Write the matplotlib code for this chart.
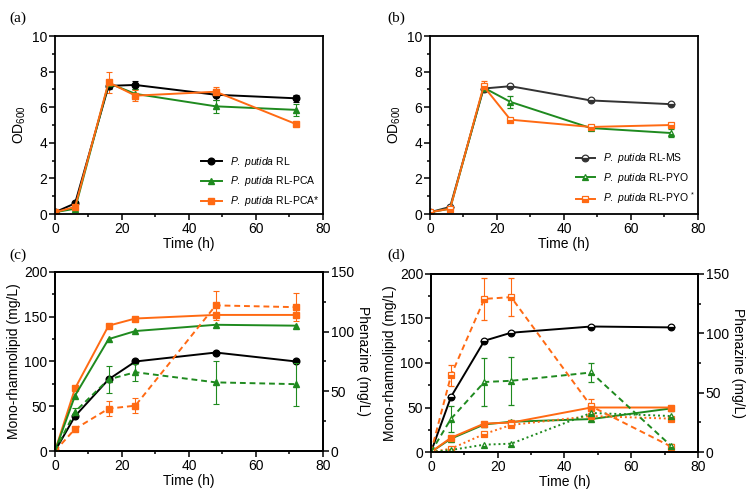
import matplotlib

matplotlib.use("Agg")
import matplotlib.pyplot as plt
from matplotlib.ticker import MultipleLocator

plt.rcParams["font.family"] = ["Liberation Sans", "DejaVu Sans"]
plt.rcParams["mathtext.fontset"] = "custom"
plt.rcParams["mathtext.rm"] = "Liberation Sans"
plt.rcParams["mathtext.it"] = "Liberation Sans:italic"
plt.rcParams["mathtext.bf"] = "Liberation Sans:bold"

BLACK = "#000000"
GREY = "#333333"
GREEN = "#1f8a1f"
ORANGE = "#ff6a13"

# sampling times (h)
TIME = [0, 6, 16, 24, 48, 72]

# (a) OD600
OD_RL = [0.1, 0.6, 7.2, 7.25, 6.7, 6.5]
OD_RL_ERR = [0, 0, 0.2, 0.25, 0.3, 0.2]
OD_PCA = [0.1, 0.3, 7.35, 6.75, 6.05, 5.85]
OD_PCA_ERR = [0, 0, 0.2, 0.3, 0.35, 0.35]
OD_PCA_STAR = [0.1, 0.4, 7.4, 6.65, 6.87, 5.05]
OD_PCA_STAR_ERR = [0, 0, 0.6, 0.3, 0.25, 0]

# (b) OD600
OD_MS = [0.1, 0.4, 7.05, 7.18, 6.38, 6.17]
OD_MS_ERR = [0, 0, 0, 0, 0, 0]
OD_PYO = [0.1, 0.3, 7.1, 6.3, 4.83, 4.55]
OD_PYO_ERR = [0, 0, 0.1, 0.35, 0.1, 0.2]
OD_PYO_STAR = [0.1, 0.3, 7.18, 5.3, 4.89, 5.0]
OD_PYO_STAR_ERR = [0, 0, 0.3, 0, 0, 0]

# (c) mono-rhamnolipid (left) and phenazine (right), mg/L
RHL_C_RL = [0, 39, 80, 100, 110, 100]
RHL_C_PCA = [0, 62, 125, 134, 141, 140]
RHL_C_PCA_STAR = [0, 70, 140, 148, 152, 152]
PHZ_C_PCA = [0, 33, 60, 66, 57.5, 56]
PHZ_C_PCA_ERR = [0, 3, 11, 7, 18, 18]
PHZ_C_PCA_STAR = [0, 18.5, 35.5, 38, 122, 120.5]
PHZ_C_PCA_STAR_ERR = [0, 2, 6, 6, 12, 12]

# (d) mono-rhamnolipid (left) and phenazine (right), mg/L
RHL_D_MS = [0, 62, 125, 134, 141, 140]
RHL_D_PYO = [0, 15, 31, 34, 37, 49]
RHL_D_PYO_STAR = [0, 16, 32, 33, 50, 50]
RHL_D_PYO_STAR_ERR = [0, 0, 0, 0, 4, 0]
PHZ_D_PYO_DASH = [0, 28, 59, 60, 67, 5]
PHZ_D_PYO_DASH_ERR = [0, 11, 20, 20, 8, 2]
PHZ_D_PYO_STAR_DASH = [0, 64.5, 129, 130.5, 38.5, 4.5]
PHZ_D_PYO_STAR_DASH_ERR = [0, 9, 18, 16, 6, 0]
PHZ_D_PYO_DOT = [0, 1.7, 6.2, 7.0, 32.9, 30.3]
PHZ_D_PYO_STAR_DOT = [0, 2.8, 15.2, 22.8, 30.3, 28.1]

LABELS_A = [
    r"$\it{P.\ putida}$ RL",
    r"$\it{P.\ putida}$ RL-PCA",
    r"$\it{P.\ putida}$ RL-PCA*",
]
LABELS_B = [
    r"$\it{P.\ putida}$ RL-MS",
    r"$\it{P.\ putida}$ RL-PYO",
    r"$\it{P.\ putida}$ RL-PYO$^{\ *}$",
]

TICK_SIZE = 10


def series(ax, y, err, color, marker, ls="-", half=False, label=None):
    kw = dict(
        color=color,
        marker=marker,
        markersize=4.8,
        linewidth=1.4,
        linestyle=ls,
        elinewidth=0.8,
        capsize=2.5,
        capthick=0.8,
        label=label,
    )
    if half:
        kw.update(fillstyle="bottom", markerfacecoloralt="white", markeredgewidth=0.9)
    ax.errorbar(TIME, y, yerr=err, **kw)


def add_legend(ax, anchor, handlelength):
    # legend shows only line + marker, no error bar caps
    handles, labels = ax.get_legend_handles_labels()
    handles = [h[0] for h in handles]
    ax.legend(
        handles,
        labels,
        loc="lower left",
        bbox_to_anchor=anchor,
        frameon=False,
        fontsize=7.5,
        handlelength=handlelength,
        labelspacing=0.55,
    )


def style_axes(ax, ymax, ymajor, yminor):
    ax.set_xlim(0, 80)
    ax.set_ylim(0, ymax)
    ax.xaxis.set_major_locator(MultipleLocator(20))
    ax.xaxis.set_minor_locator(MultipleLocator(10))
    ax.yaxis.set_major_locator(MultipleLocator(ymajor))
    ax.yaxis.set_minor_locator(MultipleLocator(yminor))
    for sp in ax.spines.values():
        sp.set_linewidth(1.3)
    ax.tick_params(which="major", length=4, width=1.1, labelsize=TICK_SIZE, pad=1.5)
    ax.tick_params(which="minor", length=2.5, width=1.1)
    ax.set_xlabel("Time (h)", fontsize=TICK_SIZE, labelpad=1)


def right_axis(ax):
    ax2 = ax.twinx()
    ax2.set_ylim(0, 150)
    ax2.yaxis.set_major_locator(MultipleLocator(50))
    ax2.yaxis.set_minor_locator(MultipleLocator(25))
    ax2.tick_params(which="major", length=4, width=1.1, labelsize=TICK_SIZE, pad=1.5)
    ax2.tick_params(which="minor", length=2.5, width=1.1)
    ax2.set_ylabel("Phenazine (mg/L)", fontsize=TICK_SIZE, rotation=270, labelpad=12)
    for sp in ax2.spines.values():
        sp.set_linewidth(1.3)
    return ax2


fig = plt.figure(figsize=(7.49, 4.96), dpi=100)

# (a)
ax_a = fig.add_axes([0.0734, 0.5685, 0.3578, 0.3589])
series(ax_a, OD_RL, OD_RL_ERR, BLACK, "o", label=LABELS_A[0])
series(ax_a, OD_PCA, OD_PCA_ERR, GREEN, "^", label=LABELS_A[1])
series(ax_a, OD_PCA_STAR, OD_PCA_STAR_ERR, ORANGE, "s", label=LABELS_A[2])
style_axes(ax_a, 10, 2, 1)
ax_a.set_ylabel("OD$_{600}$", fontsize=TICK_SIZE, labelpad=3)
add_legend(ax_a, (0.51, -0.02), 2.0)

# (b)
ax_b = fig.add_axes([0.5741, 0.5685, 0.3578, 0.3589])
series(ax_b, OD_MS, OD_MS_ERR, GREY, "o", half=True, label=LABELS_B[0])
series(ax_b, OD_PYO, OD_PYO_ERR, GREEN, "^", half=True, label=LABELS_B[1])
series(ax_b, OD_PYO_STAR, OD_PYO_STAR_ERR, ORANGE, "s", half=True, label=LABELS_B[2])
style_axes(ax_b, 10, 2, 1)
ax_b.set_ylabel("OD$_{600}$", fontsize=TICK_SIZE, labelpad=3)
add_legend(ax_b, (0.51, -0.01), 1.8)

# (c)
ax_c = fig.add_axes([0.0734, 0.0907, 0.3578, 0.361])
series(ax_c, RHL_C_PCA_STAR, None, ORANGE, "s")
series(ax_c, RHL_C_PCA, None, GREEN, "^")
series(ax_c, RHL_C_RL, None, BLACK, "o")
style_axes(ax_c, 200, 50, 25)
ax_c.set_ylabel("Mono-rhamnolipid (mg/L)", fontsize=TICK_SIZE, labelpad=2)
ax_c2 = right_axis(ax_c)
series(ax_c2, PHZ_C_PCA_STAR, PHZ_C_PCA_STAR_ERR, ORANGE, "s", ls=(0, (3, 2)))
series(ax_c2, PHZ_C_PCA, PHZ_C_PCA_ERR, GREEN, "^", ls=(0, (3, 2)))

# (d)
ax_d = fig.add_axes([0.5754, 0.0887, 0.3565, 0.3589])
series(ax_d, RHL_D_MS, None, BLACK, "o", half=True)
series(ax_d, RHL_D_PYO, None, GREEN, "^")
series(ax_d, RHL_D_PYO_STAR, RHL_D_PYO_STAR_ERR, ORANGE, "s")
style_axes(ax_d, 200, 50, 25)
ax_d.set_ylabel("Mono-rhamnolipid (mg/L)", fontsize=TICK_SIZE, labelpad=2)
ax_d2 = right_axis(ax_d)
series(ax_d2, PHZ_D_PYO_STAR_DOT, None, ORANGE, "s", ls=(0, (1, 1.5)), half=True)
series(ax_d2, PHZ_D_PYO_DOT, None, GREEN, "^", ls=(0, (1, 1.5)), half=True)
series(ax_d2, PHZ_D_PYO_STAR_DASH, PHZ_D_PYO_STAR_DASH_ERR, ORANGE, "s", ls=(0, (3, 2)), half=True)
series(ax_d2, PHZ_D_PYO_DASH, PHZ_D_PYO_DASH_ERR, GREEN, "^", ls=(0, (3, 2)), half=True)

for x, y, lab in [(0.013, 0.955, "(a)"), (0.517, 0.955, "(b)"),
                  (0.013, 0.478, "(c)"), (0.517, 0.478, "(d)")]:
    fig.text(x, y, lab, fontsize=11, family="Liberation Serif")

fig.savefig("out.png", dpi=100)
